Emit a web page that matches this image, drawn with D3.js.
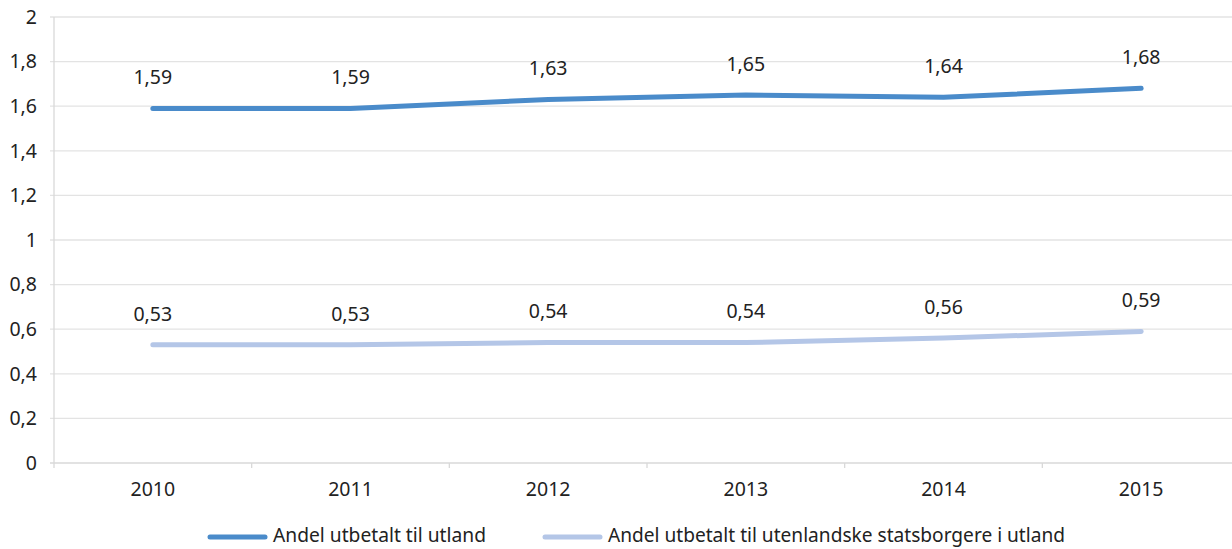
<!DOCTYPE html>
<html><head><meta charset="utf-8">
<script src="https://cdn.jsdelivr.net/npm/d3@7"></script>
<style>
html,body{margin:0;padding:0;background:#fff;}
svg text{font-family:"Noto Sans","Open Sans",sans-serif;fill:#222;}
</style></head>
<body><svg id="c" width="1232" height="549"></svg>
<script>
const years = ["2010","2011","2012","2013","2014","2015"];
const seriesNames = ["Andel utbetalt til utland","Andel utbetalt til utenlandske statsborgere i utland"];
const utland = [1.59,1.59,1.63,1.65,1.64,1.68];
const utenlandske = [0.53,0.53,0.54,0.54,0.56,0.59];
const yTicks = [0,0.2,0.4,0.6,0.8,1,1.2,1.4,1.6,1.8,2];
const colors = ["#4a8bca","#b4c6e7"];

(function(){
const svg = d3.select("#c");
const mLeft = 54, mRight = 1240, mTop = 17, mBottom = 463;
const fs = 19.5;
const x = d3.scaleBand().domain(years).range([mLeft, mRight]);
const y = d3.scaleLinear().domain([0,2]).range([mBottom, mTop]);
const fmt = v => String(v).replace(".", ",");

svg.append("g").selectAll("line").data(yTicks).join("line")
  .attr("x1", mLeft-4).attr("x2", 1232)
  .attr("y1", d=>y(d)).attr("y2", d=>y(d))
  .attr("stroke", d=> d===0 ? "#d9d9d9" : "#e3e3e3").attr("stroke-width",1.3);
svg.append("line").attr("x1",mLeft).attr("x2",mLeft).attr("y1",mTop).attr("y2",mBottom)
  .attr("stroke","#d9d9d9").attr("stroke-width",1.3);
svg.append("g").selectAll("text").data(yTicks).join("text")
  .attr("x", 37).attr("y", d=>y(d)).attr("dy","0.35em").attr("text-anchor","end")
  .attr("font-size",fs).text(d=>fmt(d));
const bounds = years.map(d=>x(d)).concat([mRight]);
svg.append("g").selectAll("line").data(bounds).join("line")
  .attr("x1",d=>d).attr("x2",d=>d).attr("y1",mBottom).attr("y2",mBottom+5)
  .attr("stroke","#d9d9d9").attr("stroke-width",1.3);
svg.append("g").selectAll("text").data(years).join("text")
  .attr("x", d=>x(d)+x.bandwidth()/2).attr("y", 489).attr("dy","0.35em")
  .attr("text-anchor","middle").attr("font-size",fs).text(d=>d);

const line = d3.line().x((d,i)=>x(years[i])+x.bandwidth()/2).y(d=>y(d));
[utland, utenlandske].forEach((s,k)=>{
  svg.append("path").datum(s).attr("d", line).attr("fill","none")
    .attr("stroke", colors[k]).attr("stroke-width",5).attr("stroke-linecap","round").attr("stroke-linejoin","round");
  svg.append("g").selectAll("text").data(s).join("text")
    .attr("x",(d,i)=>x(years[i])+x.bandwidth()/2).attr("y", d=>y(d)-31).attr("dy","0.35em")
    .attr("text-anchor","middle").attr("font-size",fs).text(d=>fmt(d.toFixed(2)));
});

const leg = [{x:210, w:213, name:seriesNames[0], c:colors[0]},{x:545, w:457, name:seriesNames[1], c:colors[1]}];
leg.forEach(l=>{
  svg.append("line").attr("x1",l.x).attr("x2",l.x+55).attr("y1",537).attr("y2",537)
    .attr("stroke",l.c).attr("stroke-width",5).attr("stroke-linecap","round");
  svg.append("text").attr("x",l.x+63).attr("y",535.5).attr("dy","0.35em").attr("font-size",fs)
    .attr("textLength", l.w).attr("lengthAdjust","spacingAndGlyphs").text(l.name);
});
})();
</script></body></html>
